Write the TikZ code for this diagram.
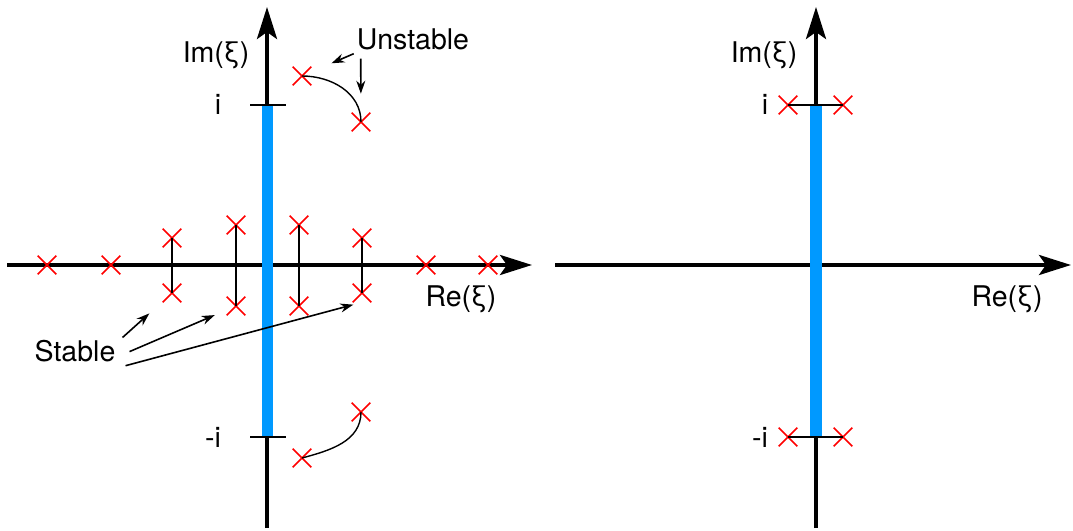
\documentclass[tikz,border=0pt]{standalone}
\usepackage{fontspec}
\setmainfont{TeX Gyre Heros}
\usetikzlibrary{arrows.meta, shapes.misc}
\definecolor{barblue}{RGB}{0,153,255}
\tikzset{
  axis/.style={
    -{Stealth[length=32pt, width=20pt, inset=7pt]},
    line width=4pt
  },
  pole/.style={
    cross out,
    draw=red,
    line width=1.6pt,
    minimum size=17pt,
    inner sep=0pt
  },
  link/.style={
    line width=1.4pt
  },
  pointer/.style={
    -{Stealth[length=13pt, width=9pt]},
    line width=1.6pt
  },
  tick/.style={
    line width=1.6pt
  },
  lbl/.style={
    font=\fontsize{28.5}{32}\selectfont,
    inner sep=3pt,
    anchor=base
  }
}

\begin{document}
\begin{tikzpicture}[x=1pt, y=1pt]
    % 1 unit = 1 pixel of the figure
    \useasboundingbox (0,0) rectangle (1073,530);

    % ----- left plane -----
    \draw[axis] (7,265) -- (532,265);
    \draw[axis] (267,2) -- (267,523);
    \fill[barblue] (262,93) rectangle (273,425);
    \draw[tick] (250,425) -- (286,425);
    \draw[tick] (250,93) -- (286,93);
    \node[lbl] (imL) at (216,467) {Im(ξ)};
    \node[lbl] (reL) at (461,223) {Re(ξ)};
    \node[lbl] (iL) at (218,415) {i};
    \node[lbl] (miL) at (213,82) {-i};

    % poles on the real axis
    \foreach \x [count=\i] in {47,111,426,488}
      \node[pole] (h\i) at (\x,265) {};

    % pairs of stable poles
    \foreach \x/\ylo/\yhi [count=\i] in {172/237/292, 236/224/305, 299/224/305, 362/237/292} {
      \node[pole] (s\i) at (\x,\ylo) {};
      \node[pole] (t\i) at (\x,\yhi) {};
      \draw[link] (s\i.center) -- (t\i.center);
    }

    % unstable poles
    \node[pole] (u1) at (302,454) {};
    \node[pole] (u2) at (361,408) {};
    \draw[link] (u1.center) to[out=0, in=90] (u2.center);
    \node[pole] (l1) at (361,118) {};
    \node[pole] (l2) at (302,72) {};
    \draw[link] (l1.center) to[out=-90, in=15] (l2.center);

    % labels with pointers
    \node[lbl] (unstable) at (413,480) {Unstable};
    \draw[pointer, shorten >=22pt] (unstable.south west) -- (u1);
    \draw[pointer, shorten >=19pt] ([shift={(7pt,-5pt)}]unstable.south west) -- (u2);

    \node[lbl] (stable) at (75,168) {Stable};
    \draw[pointer, shorten >=18pt] ([xshift=4pt]stable.north east) -- (s1);
    \draw[pointer, shorten >=13pt] ([xshift=11pt]stable.east) -- (s2);
    \draw[pointer, shorten >=9pt] ([xshift=7pt]stable.south east) -- (s4.south);

    % ----- right plane -----
    \draw[axis] (555,265) -- (1071,265);
    \draw[axis] (816,2) -- (816,523);
    \fill[barblue] (810,93) rectangle (822,425);
    \node[lbl] (imR) at (764,467) {Im(ξ)};
    \node[lbl] (reR) at (1007,223) {Re(ξ)};
    \node[lbl] (iR) at (765,415) {i};
    \node[lbl] (miR) at (760,82) {-i};

    % poles at +i and -i
    \node[pole] (ra1) at (788,425) {};
    \node[pole] (rb1) at (843,425) {};
    \node[pole] (ra2) at (788,93) {};
    \node[pole] (rb2) at (843,93) {};
    \draw[tick] (ra1.center) -- (rb1.center);
    \draw[tick] (ra2.center) -- (rb2.center);

  \end{tikzpicture}
\end{document}
